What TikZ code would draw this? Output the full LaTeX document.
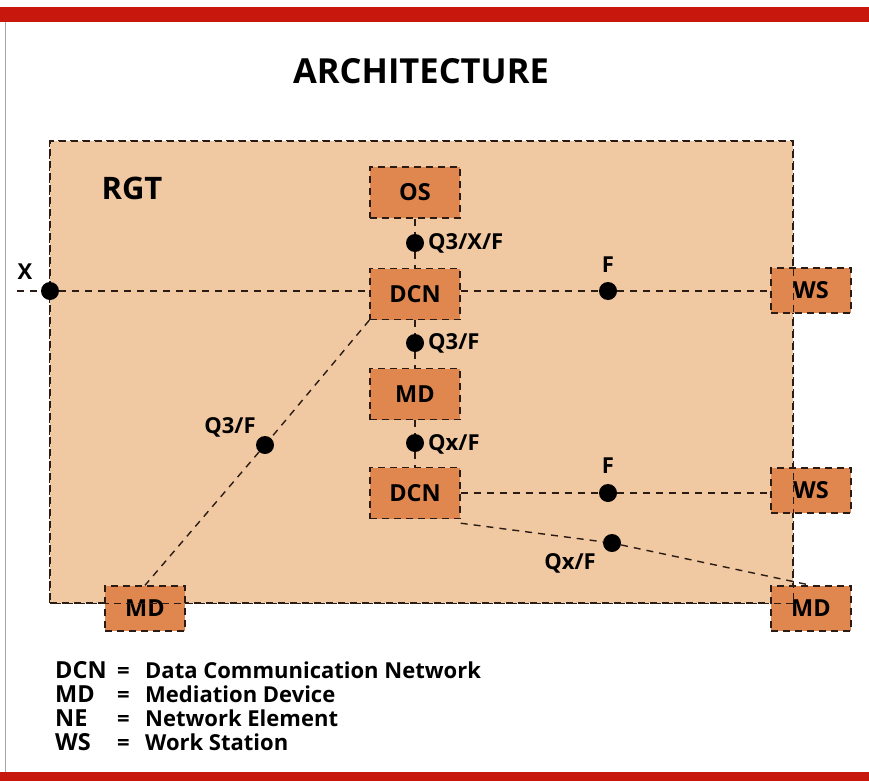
\documentclass[tikz,border=0pt]{standalone}
\usepackage{fontspec}
\setmainfont{Open Sans}
\definecolor{barred}{HTML}{C8180E}
\definecolor{regionfill}{HTML}{F0C8A2}
\definecolor{unitfill}{HTML}{E0864F}
\definecolor{edge}{HTML}{2A1C14}
\tikzset{
  frame/.style={draw=edge, line width=1.4pt, dash pattern=on 7pt off 5pt},
  unit/.style={frame, fill=unitfill, inner sep=0pt, minimum width=90pt, minimum height=51pt,
    font=\bfseries\fontsize{23.5}{23.5}\selectfont},
  smallunit/.style={unit, minimum width=80pt, minimum height=45pt},
  link/.style={draw=edge, line width=1.4pt, dash pattern=on 7pt off 6pt},
  dot/.style={circle, fill=black, minimum size=18pt, inner sep=0pt},
  lbl/.style={inner sep=0pt, font=\bfseries\fontsize{22}{22}\selectfont},
  legend/.style={anchor=base west, inner sep=0pt, font=\bfseries\fontsize{22}{22}\selectfont},
  abbrev/.style={legend, font=\bfseries\fontsize{23.5}{23.5}\selectfont}
}
\begin{document}
\begin{tikzpicture}[x=1pt,y=-1pt]
  \useasboundingbox (0,0) rectangle (869,781);
  \fill[white] (0,0) rectangle (869,781);
  % page bars and left rule
  \fill[barred] (0,7) rectangle (869,22);
  \fill[barred] (0,772) rectangle (869,781);
  \draw[gray!70, line width=1pt] (5,22) -- (5,772);

  \node[lbl, font=\bfseries\fontsize{34.5}{34.5}\selectfont] (title) at (421,71) {ARCHITECTURE};

  % RGT region (fill first, its dashed outline is drawn again over the units)
  \node[frame, fill=regionfill, minimum width=743pt, minimum height=462pt, inner sep=0pt]
    (rgt) at (421.5,372) {};
  \node[lbl, font=\bfseries\fontsize{31}{31}\selectfont] (rgtlabel) at (132,188) {RGT};

  % units
  \node[unit] (os)   at (415,192.5) {OS};
  \node[unit] (dcna) at (415,294) {DCN};
  \node[unit] (mda)  at (415,394) {MD};
  \node[unit] (dcnb) at (415,493) {DCN};
  \node[smallunit] (wsa) at (811,290.5) {WS};
  \node[smallunit] (wsb) at (811,490.5) {WS};
  \node[smallunit] (mdr) at (811,608.5) {MD};
  \node[smallunit] (mdl) at (145,608.5) {MD};

  \draw[frame] (rgt.north west) rectangle (rgt.south east);

  % reference points
  \node[dot] (px)  at (50,291) {};
  \node[dot] (pos) at (415,243) {};
  \node[dot] (pfa) at (608,291) {};
  \node[dot] (pma) at (415,343) {};
  \node[dot] (pmb) at (415,443) {};
  \node[dot] (pdg) at (265,445) {};
  \node[dot] (pfb) at (608,493) {};
  \node[dot] (pqx) at (612,543) {};
  \coordinate (xin) at (17,291);

  % connectors
  \draw[link] (xin) -- (px);
  \draw[link] (px) -- (dcna.west |- px);
  \draw[link] (dcna.east |- pfa) -- (pfa) -- (wsa.west |- pfa);
  \draw[link] (os) -- (pos) -- (dcna);
  \draw[link] (dcna) -- (pma) -- (mda);
  \draw[link] (mda) -- (pmb) -- (dcnb);
  \draw[link] (dcnb.east |- pfb) -- (pfb) -- (wsb.west |- pfb);
  \draw[link] (dcna.south west) -- (pdg) -- (mdl.north);
  \draw[link] ([yshift=-4pt]dcnb.south east) -- (pqx) -- (mdr.north);

  % interface labels
  \node[lbl, anchor=west] at (428,243) {Q3/X/F};
  \node[lbl, anchor=west] at (428,343) {Q3/F};
  \node[lbl, anchor=west] at (428,444) {Qx/F};
  \node[lbl] at (230,427) {Q3/F};
  \node[lbl] at (608,265) {F};
  \node[lbl] at (608,466) {F};
  \node[lbl] at (570,563) {Qx/F};
  \node[lbl] at (25,272) {X};

  % legend
  \node[abbrev] at (55,678) {DCN};
  \node[abbrev] at (55,702) {MD};
  \node[abbrev] at (55,726) {NE};
  \node[abbrev] at (55,750) {WS};
  \foreach \yy in {678,702,726,750} \node[legend] at (117,\yy) {=};
  \node[legend] at (145,678) {Data Communication Network};
  \node[legend] at (145,702) {Mediation Device};
  \node[legend] at (145,726) {Network Element};
  \node[legend] at (145,750) {Work Station};
\end{tikzpicture}
\end{document}
